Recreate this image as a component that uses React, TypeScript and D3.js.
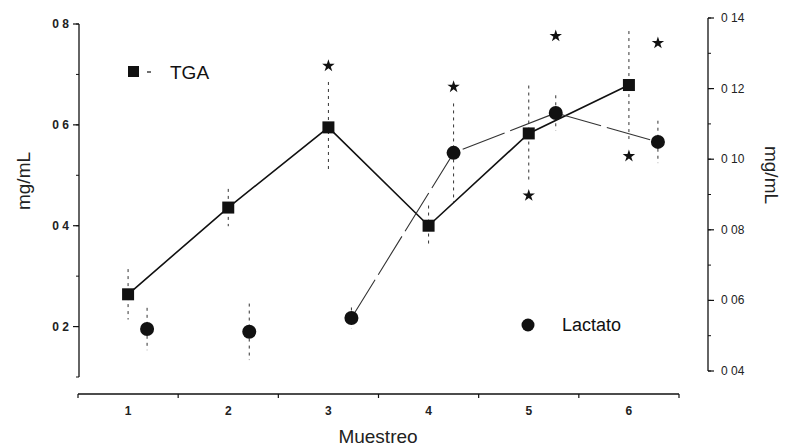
import React from "react";
import * as d3 from "d3";

const categories = ["1", "2", "3", "4", "5", "6"];
const tga = [0.264, 0.436, 0.595, 0.4, 0.583, 0.679];
const tgaErr = [0.05, 0.037, 0.09, 0.04, 0.095, 0.107];
const lactato = [0.0519, 0.0511, 0.055, 0.1018, 0.1131, 0.1049];
const lactatoErr = [0.006, 0.008, 0.003, 0.014, 0.005, 0.006];
// significance stars: category, series, value
const starCats = [3, 4, 5, 5, 6, 6];
const starSeries = ["tga", "lac", "lac", "tga", "lac", "tga"];
const starValues = [0.717, 0.1205, 0.1349, 0.46, 0.1329, 0.538];
const leftTicks = [0.2, 0.4, 0.6, 0.8];
const leftTickLabels = ["0 2", "0 4", "0 6", "0 8"];
const rightTicks = [0.04, 0.06, 0.08, 0.1, 0.12, 0.14];
const rightTickLabels = ["0 04", "0 06", "0 08", "0 10", "0 12", "0 14"];

const font = "'Liberation Sans', Arial, sans-serif";

const App = () => {
  const x = d3.scaleBand().domain(categories).range([78, 679]);
  const bw = x.bandwidth();
  const xc = (c: string) => (x(c) as number) + bw / 2;
  const xLac = d3.scaleLinear().domain([0.5, 6.5]).range([96, 709]);
  const yL = d3.scaleLinear().domain([0.1, 0.8]).range([377, 24]);
  const yR = d3.scaleLinear().domain([0.04, 0.14]).range([371, 18]);

  const tgaLine = d3
    .line<number>()
    .x((d, i) => xc(categories[i]))
    .y((d) => yL(d));
  const lacLine = d3
    .line<number>()
    .defined((d, i) => i >= 2)
    .x((d, i) => xLac(i + 1))
    .y((d) => yR(d));

  const star = d3.symbol().type(d3.symbolStar).size(48)();
  const square = 12;

  const leftMinor = d3.range(0.1, 0.81, 0.1);
  const rightMinor = d3.range(0.04, 0.141, 0.01);

  return (
    <svg width={808} height={448} style={{ position: "absolute", left: 0, top: 0 }} fontFamily={font}>
      <rect width={808} height={448} fill="#fff" />

      {/* left axis */}
      <line x1={79} x2={79} y1={yL(0.8)} y2={yL(0.1)} stroke="#111" strokeWidth={1.3} />
      {leftMinor.map((v, i) => (
        <line key={"lm" + i} x1={76} x2={79} y1={yL(v)} y2={yL(v)} stroke="#111" />
      ))}
      {leftTicks.map((v, i) => (
        <g key={"lt" + i}>
          <line x1={73} x2={79} y1={yL(v)} y2={yL(v)} stroke="#111" strokeWidth={1.2} />
          <text x={69} y={yL(v) + 4} textAnchor="end" fontSize={12} fontWeight="bold" fill="#222">
            {leftTickLabels[i]}
          </text>
        </g>
      ))}

      {/* right axis */}
      <line x1={708} x2={708} y1={yR(0.14)} y2={yR(0.04)} stroke="#111" strokeWidth={1.3} />
      {rightMinor.map((v, i) => (
        <line key={"rm" + i} x1={708} x2={711} y1={yR(v)} y2={yR(v)} stroke="#111" />
      ))}
      {rightTicks.map((v, i) => (
        <g key={"rt" + i}>
          <line x1={708} x2={714} y1={yR(v)} y2={yR(v)} stroke="#111" strokeWidth={1.2} />
          <text x={721} y={yR(v) + 4} fontSize={12} fill="#222">
            {rightTickLabels[i]}
          </text>
        </g>
      ))}

      {/* x axis */}
      <line x1={78} x2={679} y1={394} y2={394} stroke="#111" strokeWidth={1.6} />
      {x.domain().map((c) => (
        <g key={"xt" + c}>
          <line x1={x(c) as number} x2={x(c) as number} y1={394} y2={398} stroke="#111" strokeWidth={1.2} />
          <text x={xc(c)} y={415} textAnchor="middle" fontSize={12} fontWeight="bold" fill="#222">
            {c}
          </text>
        </g>
      ))}
      <line x1={679} x2={679} y1={394} y2={398} stroke="#111" strokeWidth={1.2} />

      {/* titles */}
      <text x={378} y={443} textAnchor="middle" fontSize={19} fill="#222">Muestreo</text>
      <text transform="translate(30,181) rotate(-90)" textAnchor="middle" fontSize={19} fill="#222">mg/mL</text>
      <text transform="translate(765,175) rotate(90)" textAnchor="middle" fontSize={19} fill="#222">mg/mL</text>

      {/* error bars */}
      {tga.map((v, i) => (
        <line key={"te" + i} x1={xc(categories[i])} x2={xc(categories[i])} y1={yL(v + tgaErr[i])} y2={yL(v - tgaErr[i])}
          stroke="#333" strokeWidth={1} strokeDasharray="3,4" />
      ))}
      {lactato.map((v, i) => (
        <line key={"le" + i} x1={xLac(i + 1)} x2={xLac(i + 1)} y1={yR(v + lactatoErr[i])} y2={yR(v - lactatoErr[i])}
          stroke="#333" strokeWidth={1} strokeDasharray="3,4" />
      ))}

      {/* lines */}
      <path d={tgaLine(tga) as string} fill="none" stroke="#111" strokeWidth={1.6} />
      <path d={lacLine(lactato) as string} fill="none" stroke="#333" strokeWidth={1.1} strokeDasharray="45,6" />

      {/* markers */}
      {tga.map((v, i) => (
        <rect key={"ts" + i} x={xc(categories[i]) - square / 2} y={yL(v) - square / 2} width={square} height={square} fill="#111" />
      ))}
      {lactato.map((v, i) => (
        <circle key={"lc" + i} cx={xLac(i + 1)} cy={yR(v)} r={7} fill="#111" />
      ))}

      {/* stars */}
      {starCats.map((c, i) => {
        const sx = starSeries[i] === "tga" ? xc(String(c)) : xLac(c);
        const sy = starSeries[i] === "tga" ? yL(starValues[i]) : yR(starValues[i]);
        return <path key={"st" + i} d={star as string} transform={`translate(${sx},${sy})`} fill="#111" />;
      })}

      {/* legends */}
      <rect x={128} y={66} width={11} height={11} fill="#111" />
      <line x1={147} x2={151} y1={72} y2={72} stroke="#111" strokeWidth={1.2} />
      <text x={170} y={79} fontSize={19} fill="#111">TGA</text>
      <circle cx={528} cy={325} r={6.5} fill="#111" />
      <text x={562} y={331} fontSize={18} fill="#111">Lactato</text>
    </svg>
  );
};

export default App;
